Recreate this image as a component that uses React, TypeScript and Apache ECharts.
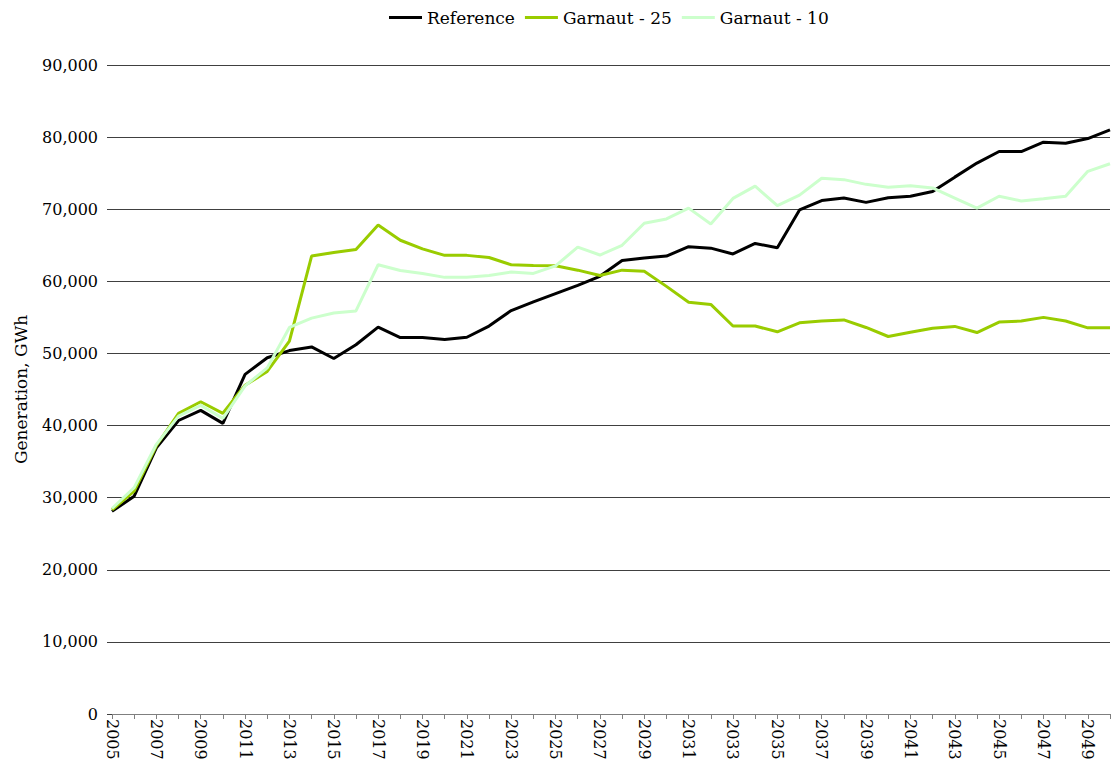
import React, { useEffect, useRef } from "react";
import * as echarts from "echarts";

const years: string[] = [];
for (let y = 2005; y <= 2050; y++) years.push(String(y));

const reference = [
  28100, 30200, 36900, 40700, 42100, 40300, 47100, 49400, 50400, 50900,
  49300, 51200, 53650, 52200, 52200, 51950, 52250, 53800, 55950, 57150,
  58300, 59450, 60700, 62900, 63250, 63500, 64800, 64600, 63800, 65250,
  64650, 69900, 71200, 71550, 70950, 71600, 71800, 72450, 74450, 76400,
  78000, 78000, 79300, 79150, 79800, 81000,
];
const garnaut25 = [
  28300, 30900, 37200, 41700, 43300, 41700, 45600, 47500, 51700, 63500,
  64000, 64400, 67800, 65700, 64500, 63600, 63600, 63300, 62300, 62200,
  62150, 61550, 60800, 61550, 61400, 59300, 57100, 56800, 53800, 53800,
  53000, 54250, 54500, 54650, 53600, 52350, 52950, 53500, 53750, 52900,
  54350, 54500, 55000, 54500, 53550, 53550,
];
const garnaut10 = [
  28500, 31400, 37400, 41300, 42800, 41000, 45500, 48000, 53600, 54900,
  55600, 55900, 62300, 61500, 61100, 60550, 60550, 60800, 61300, 61100,
  62150, 64750, 63650, 65000, 68050, 68650, 70150, 67950, 71500, 73200,
  70500, 71950, 74300, 74100, 73450, 73050, 73250, 72950, 71550, 70150,
  71800, 71150, 71450, 71800, 75250, 76300,
];

const seriesNames = ["Reference", "Garnaut - 25", "Garnaut - 10"];
const seriesColors = ["#000000", "#99cc00", "#ccffcc"];

const FONT = "'DejaVu Serif', serif";

export default function App() {
  const ref = useRef<HTMLDivElement>(null);
  useEffect(() => {
    if (!ref.current) return;
    const chart = echarts.init(ref.current, null, { renderer: "svg" });
    const data = [reference, garnaut25, garnaut10];
    chart.setOption({
      animation: false,
      backgroundColor: "#ffffff",
      textStyle: { fontFamily: FONT },
      legend: {
        left: 384,
        top: 4,
        icon: "rect",
        itemWidth: 33,
        itemHeight: 3,
        itemGap: 10,
        textStyle: { fontFamily: FONT, fontSize: 17, color: "#000" },
        data: seriesNames,
      },
      grid: { left: 112, right: 7, top: 65, bottom: 61, containLabel: false },
      xAxis: {
        type: "category",
        data: years,
        boundaryGap: false,
        axisLine: { show: true, lineStyle: { color: "#7f7f7f", width: 1 } },
        axisTick: { show: true, interval: 0, length: 5, lineStyle: { color: "#7f7f7f" } },
        axisLabel: {
          interval: 1,
          rotate: -90,
          margin: 5,
          fontFamily: FONT,
          fontSize: 16,
          color: "#000",
        },
        splitLine: { show: false },
      },
      yAxis: {
        type: "value",
        min: 0,
        max: 90000,
        interval: 10000,
        name: "Generation, GWh",
        nameLocation: "middle",
        nameGap: 83,
        nameTextStyle: { fontFamily: FONT, fontSize: 17, color: "#000" },
        axisLine: { show: false },
        axisTick: { show: true, length: 5, lineStyle: { color: "#404040" } },
        axisLabel: {
          margin: 14,
          fontFamily: FONT,
          fontSize: 16,
          color: "#000",
          formatter: (v: number) => v.toLocaleString("en-US"),
        },
        splitLine: { show: true, lineStyle: { color: "#404040", width: 1 } },
      },
      series: seriesNames.map((name, i) => ({
        name,
        type: "line",
        data: data[i],
        showSymbol: false,
        symbol: "none",
        lineStyle: { color: seriesColors[i], width: 3 },
        itemStyle: { color: seriesColors[i] },
      })),
    });
    return () => chart.dispose();
  }, []);
  return (
    <div
      ref={ref}
      style={{ position: "absolute", left: 0, top: 0, width: 1117, height: 775 }}
    />
  );
}
